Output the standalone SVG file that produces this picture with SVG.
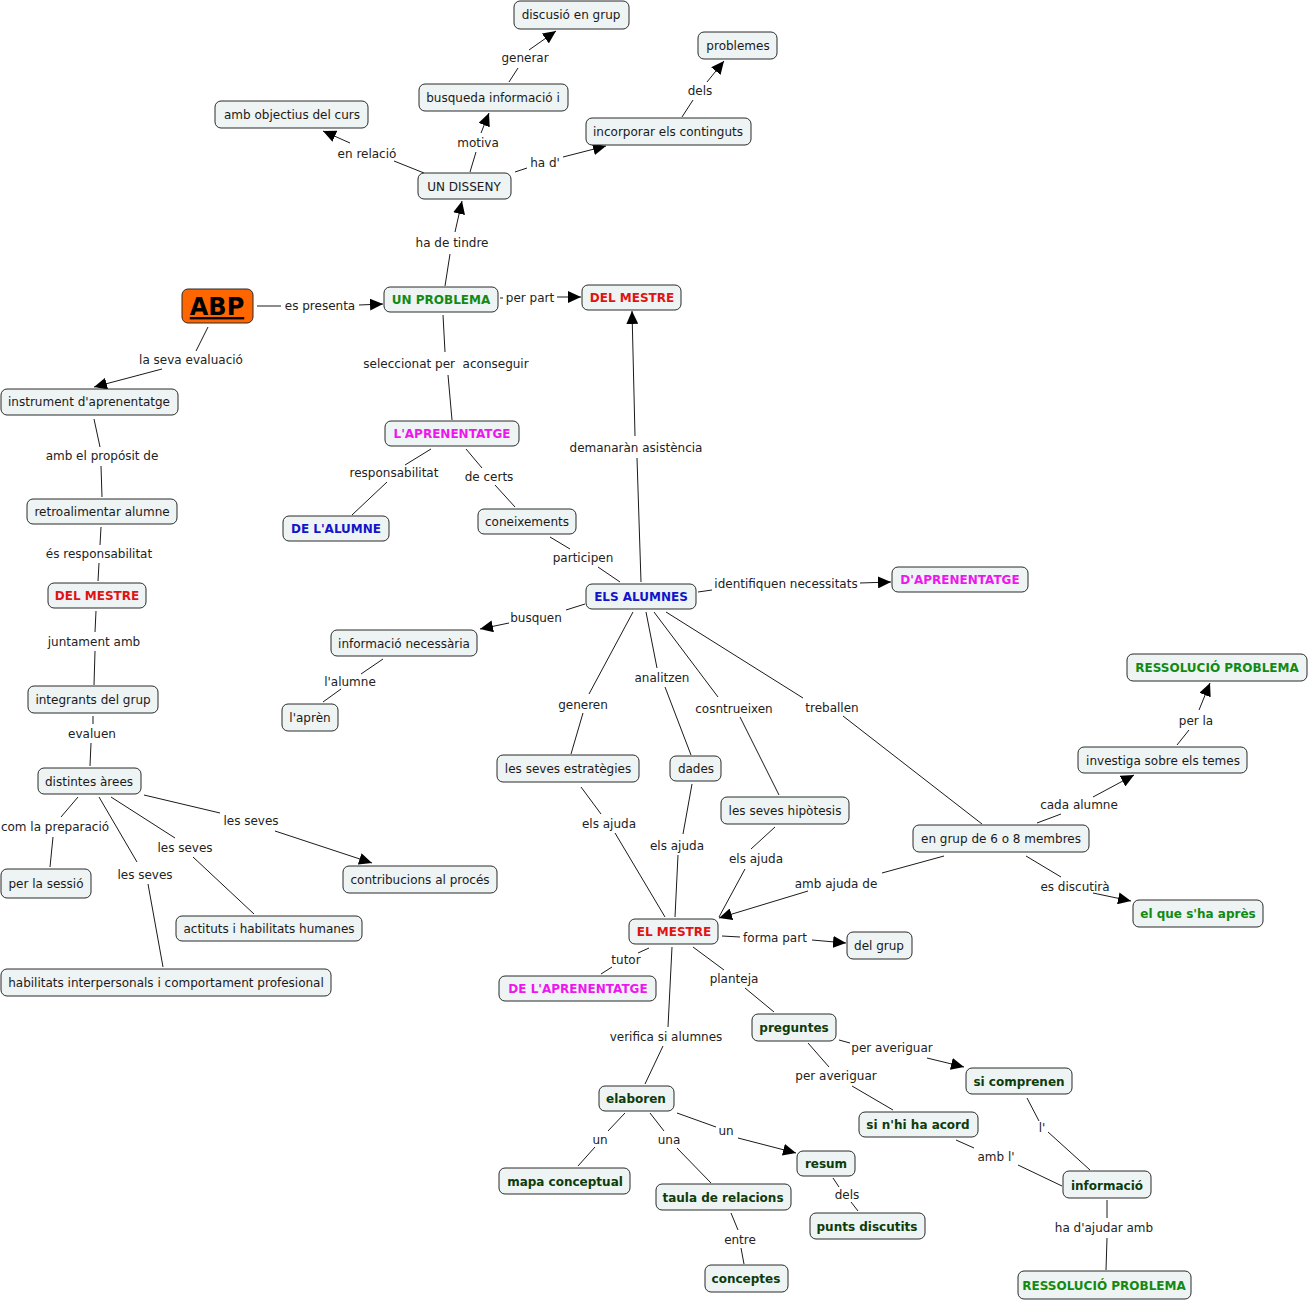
<svg xmlns="http://www.w3.org/2000/svg" width="1311" height="1301" viewBox="0 0 1311 1301">
<style>
.n{fill:#eef3f3;stroke:#2a2a2a;stroke-width:1}
.t{font-family:"DejaVu Sans",Verdana,sans-serif;font-size:12px;fill:#1a1a1a;text-anchor:middle}
.b{font-weight:bold}
.l{font-family:"DejaVu Sans",Verdana,sans-serif;font-size:12px;fill:#222;text-anchor:middle}
.c line{stroke:#1a1a1a;stroke-width:1}
.a{marker-end:url(#ar)}
.g{fill:#128a12}.r{fill:#e01414}.m{fill:#ee16ee}.bl{fill:#1414c8}.dg{fill:#0c3c0c}
</style>
<defs>
<marker id="ar" markerUnits="userSpaceOnUse" markerWidth="14" markerHeight="12" refX="13" refY="6" orient="auto"><path d="M0,0 L13,6 L0,12 z" fill="#000"/></marker>
</defs>
<rect width="1311" height="1301" fill="#fff"/>
<g class="c">
<line x1="470" y1="172" x2="476" y2="152"/><line x1="481" y1="133" x2="489" y2="113" class="a"/>
<line x1="509" y1="82" x2="518" y2="68"/><line x1="529" y1="50" x2="556" y2="31" class="a"/>
<line x1="424" y1="173" x2="394" y2="161"/><line x1="350" y1="143" x2="323" y2="131" class="a"/>
<line x1="515" y1="172" x2="527" y2="168"/><line x1="563" y1="157" x2="606" y2="146" class="a"/>
<line x1="682" y1="117" x2="693" y2="100"/><line x1="707" y1="82" x2="724" y2="61" class="a"/>
<line x1="445" y1="286" x2="450" y2="254"/><line x1="455" y1="232" x2="462" y2="201" class="a"/>
<line x1="257" y1="306" x2="281" y2="306"/><line x1="359" y1="305" x2="383" y2="304" class="a"/>
<line x1="500" y1="298" x2="503" y2="298"/><line x1="557" y1="297" x2="581" y2="297" class="a"/>
<line x1="208" y1="327" x2="196" y2="351"/><line x1="162" y1="369" x2="94" y2="387" class="a"/>
<line x1="443" y1="315" x2="445" y2="352"/><line x1="448" y1="375" x2="452" y2="420"/>
<line x1="641" y1="582" x2="637" y2="458"/><line x1="635" y1="436" x2="632" y2="311" class="a"/>
<line x1="94" y1="419" x2="100" y2="447"/><line x1="101" y1="466" x2="102" y2="497"/>
<line x1="431" y1="449" x2="405" y2="465"/><line x1="387" y1="482" x2="352" y2="515"/>
<line x1="466" y1="449" x2="482" y2="468"/><line x1="495" y1="485" x2="515" y2="507"/>
<line x1="101" y1="527" x2="100" y2="545"/><line x1="99" y1="563" x2="98" y2="581"/>
<line x1="550" y1="537" x2="570" y2="549"/><line x1="598" y1="567" x2="620" y2="582"/>
<line x1="698" y1="592" x2="712" y2="590"/><line x1="860" y1="583" x2="891" y2="582" class="a"/>
<line x1="585" y1="604" x2="566" y2="610"/><line x1="509" y1="623" x2="480" y2="629" class="a"/>
<line x1="96" y1="611" x2="95" y2="632"/><line x1="95" y1="651" x2="94" y2="685"/>
<line x1="383" y1="659" x2="361" y2="674"/><line x1="341" y1="689" x2="323" y2="702"/>
<line x1="646" y1="612" x2="657" y2="668"/><line x1="665" y1="687" x2="691" y2="755"/>
<line x1="633" y1="612" x2="589" y2="694"/><line x1="583" y1="713" x2="571" y2="754"/>
<line x1="654" y1="612" x2="718" y2="697"/><line x1="740" y1="717" x2="779" y2="795"/>
<line x1="666" y1="612" x2="803" y2="698"/><line x1="843" y1="716" x2="982" y2="824"/>
<line x1="93" y1="716" x2="93" y2="724"/><line x1="91" y1="743" x2="90" y2="766"/>
<line x1="1177" y1="745" x2="1189" y2="730"/><line x1="1199" y1="710" x2="1210" y2="683" class="a"/>
<line x1="1037" y1="823" x2="1061" y2="814"/><line x1="1093" y1="797" x2="1134" y2="775" class="a"/>
<line x1="144" y1="795" x2="220" y2="813"/><line x1="275" y1="831" x2="372" y2="863" class="a"/>
<line x1="78" y1="797" x2="61" y2="817"/><line x1="53" y1="837" x2="50" y2="867"/>
<line x1="111" y1="797" x2="175" y2="838"/><line x1="193" y1="857" x2="254" y2="914"/>
<line x1="99" y1="797" x2="137" y2="862"/><line x1="148" y1="884" x2="163" y2="967"/>
<line x1="581" y1="787" x2="601" y2="814"/><line x1="615" y1="833" x2="665" y2="917"/>
<line x1="692" y1="784" x2="683" y2="834"/><line x1="678" y1="855" x2="675" y2="917"/>
<line x1="775" y1="827" x2="751" y2="849"/><line x1="745" y1="869" x2="719" y2="917"/>
<line x1="944" y1="856" x2="882" y2="873"/><line x1="808" y1="891" x2="719" y2="918" class="a"/>
<line x1="1026" y1="856" x2="1061" y2="877"/><line x1="1093" y1="893" x2="1131" y2="901" class="a"/>
<line x1="722" y1="936" x2="740" y2="937"/><line x1="812" y1="940" x2="846" y2="943" class="a"/>
<line x1="649" y1="948" x2="638" y2="953"/><line x1="612" y1="967" x2="601" y2="974"/>
<line x1="693" y1="947" x2="724" y2="970"/><line x1="745" y1="988" x2="774" y2="1012"/>
<line x1="672" y1="947" x2="668" y2="1027"/><line x1="663" y1="1046" x2="645" y2="1084"/>
<line x1="839" y1="1040" x2="850" y2="1043"/><line x1="927" y1="1058" x2="964" y2="1067" class="a"/>
<line x1="808" y1="1043" x2="829" y2="1067"/><line x1="852" y1="1086" x2="893" y2="1110"/>
<line x1="625" y1="1113" x2="608" y2="1131"/><line x1="595" y1="1147" x2="578" y2="1166"/>
<line x1="650" y1="1113" x2="664" y2="1131"/><line x1="677" y1="1148" x2="711" y2="1183"/>
<line x1="677" y1="1113" x2="716" y2="1127"/><line x1="738" y1="1138" x2="796" y2="1153" class="a"/>
<line x1="1027" y1="1098" x2="1039" y2="1121"/><line x1="1048" y1="1132" x2="1090" y2="1170"/>
<line x1="956" y1="1140" x2="974" y2="1148"/><line x1="1018" y1="1165" x2="1062" y2="1186"/>
<line x1="833" y1="1178" x2="839" y2="1187"/><line x1="851" y1="1202" x2="858" y2="1211"/>
<line x1="1107" y1="1200" x2="1107" y2="1218"/><line x1="1107" y1="1238" x2="1106" y2="1270"/>
<line x1="731" y1="1213" x2="738" y2="1230"/><line x1="741" y1="1248" x2="744" y2="1264"/>
</g>
<g id="labels">
<text class="l" x="525" y="62">generar</text>
<text class="l" x="700" y="95">dels</text>
<text class="l" x="478" y="147">motiva</text>
<text class="l" x="367" y="158">en relació</text>
<text class="l" x="545" y="167">ha d'</text>
<text class="l" x="452" y="247">ha de tindre</text>
<text class="l" x="320" y="310">es presenta</text>
<text class="l" x="530" y="302">per part</text>
<text class="l" x="191" y="364">la seva evaluació</text>
<text class="l" x="446" y="368" xml:space="preserve">seleccionat per  aconseguir</text>
<text class="l" x="636" y="452">demanaràn asistència</text>
<text class="l" x="102" y="460">amb el propósit de</text>
<text class="l" x="394" y="477">responsabilitat</text>
<text class="l" x="489" y="481">de certs</text>
<text class="l" x="99" y="558">és responsabilitat</text>
<text class="l" x="583" y="562">participen</text>
<text class="l" x="786" y="588">identifiquen necessitats</text>
<text class="l" x="536" y="622">busquen</text>
<text class="l" x="94" y="646">juntament amb</text>
<text class="l" x="350" y="686">l'alumne</text>
<text class="l" x="662" y="682">analitzen</text>
<text class="l" x="583" y="709">generen</text>
<text class="l" x="734" y="713">cosntrueixen</text>
<text class="l" x="832" y="712">treballen</text>
<text class="l" x="1196" y="725">per la</text>
<text class="l" x="92" y="738">evaluen</text>
<text class="l" x="1079" y="809">cada alumne</text>
<text class="l" x="251" y="825">les seves</text>
<text class="l" x="55" y="831">com la preparació</text>
<text class="l" x="609" y="828">els ajuda</text>
<text class="l" x="185" y="852">les seves</text>
<text class="l" x="677" y="850">els ajuda</text>
<text class="l" x="756" y="863">els ajuda</text>
<text class="l" x="145" y="879">les seves</text>
<text class="l" x="836" y="888">amb ajuda de</text>
<text class="l" x="1075" y="891">es discutirà</text>
<text class="l" x="775" y="942">forma part</text>
<text class="l" x="626" y="964">tutor</text>
<text class="l" x="734" y="983">planteja</text>
<text class="l" x="666" y="1041">verifica si alumnes</text>
<text class="l" x="892" y="1052">per averiguar</text>
<text class="l" x="836" y="1080">per averiguar</text>
<text class="l" x="600" y="1144">un</text>
<text class="l" x="669" y="1144">una</text>
<text class="l" x="726" y="1135">un</text>
<text class="l" x="1042" y="1132">l'</text>
<text class="l" x="996" y="1161">amb l'</text>
<text class="l" x="847" y="1199">dels</text>
<text class="l" x="1104" y="1232">ha d'ajudar amb</text>
<text class="l" x="740" y="1244">entre</text>
</g>
<g id="n1"><rect class="n" x="514" y="1" width="115" height="28" rx="6"/><text class="t" x="571" y="19">discusió en grup</text></g>
<g id="n2"><rect class="n" x="698" y="32" width="79" height="27" rx="6"/><text class="t" x="738" y="50">problemes</text></g>
<g id="n3"><rect class="n" x="419" y="84" width="149" height="27" rx="6"/><text class="t" x="493" y="102">busqueda informació i</text></g>
<g id="n4"><rect class="n" x="215" y="101" width="153" height="27" rx="6"/><text class="t" x="292" y="119">amb objectius del curs</text></g>
<g id="n5"><rect class="n" x="586" y="118" width="165" height="27" rx="6"/><text class="t" x="668" y="136">incorporar els continguts</text></g>
<g id="n6"><rect class="n" x="418" y="173" width="93" height="26" rx="6"/><text class="t" x="464" y="191">UN DISSENY</text></g>
<g id="n7"><rect x="182" y="289" width="71" height="34" rx="6" fill="#ff6600" stroke="#2a2a2a"/><text class="t b" x="217" y="315" style="font-size:24px;text-decoration:underline;fill:#000">ABP</text></g>
<g id="n8"><rect class="n" x="384" y="287" width="114" height="25" rx="6"/><text class="t b g" x="441" y="304">UN PROBLEMA</text></g>
<g id="n9"><rect class="n" x="582" y="285" width="99" height="25" rx="6"/><text class="t b r" x="632" y="302">DEL MESTRE</text></g>
<g id="n10"><rect class="n" x="1" y="389" width="177" height="26" rx="6"/><text class="t" x="89" y="406">instrument d'aprenentatge</text></g>
<g id="n11"><rect class="n" x="385" y="421" width="134" height="25" rx="6"/><text class="t b m" x="452" y="438">L'APRENENTATGE</text></g>
<g id="n12"><rect class="n" x="283" y="516" width="106" height="25" rx="6"/><text class="t b bl" x="336" y="533">DE L'ALUMNE</text></g>
<g id="n13"><rect class="n" x="27" y="499" width="150" height="25" rx="6"/><text class="t" x="102" y="516">retroalimentar alumne</text></g>
<g id="n14"><rect class="n" x="478" y="509" width="98" height="25" rx="6"/><text class="t" x="527" y="526">coneixements</text></g>
<g id="n15"><rect class="n" x="586" y="584" width="110" height="25" rx="6"/><text class="t b bl" x="641" y="601">ELS ALUMNES</text></g>
<g id="n16"><rect class="n" x="892" y="567" width="136" height="25" rx="6"/><text class="t b m" x="960" y="584">D'APRENENTATGE</text></g>
<g id="n17"><rect class="n" x="48" y="583" width="98" height="25" rx="6"/><text class="t b r" x="97" y="600">DEL MESTRE</text></g>
<g id="n18"><rect class="n" x="331" y="630" width="146" height="26" rx="6"/><text class="t" x="404" y="648">informació necessària</text></g>
<g id="n19"><rect class="n" x="282" y="704" width="56" height="27" rx="6"/><text class="t" x="310" y="722">l'aprèn</text></g>
<g id="n20"><rect class="n" x="1127" y="654" width="180" height="27" rx="6"/><text class="t b g" x="1217" y="672">RESSOLUCIÓ PROBLEMA</text></g>
<g id="n21"><rect class="n" x="28" y="686" width="130" height="27" rx="6"/><text class="t" x="93" y="704">integrants del grup</text></g>
<g id="n22"><rect class="n" x="1078" y="747" width="169" height="26" rx="6"/><text class="t" x="1163" y="765">investiga sobre els temes</text></g>
<g id="n23"><rect class="n" x="38" y="768" width="103" height="26" rx="6"/><text class="t" x="89" y="786">distintes àrees</text></g>
<g id="n24"><rect class="n" x="497" y="755" width="142" height="27" rx="6"/><text class="t" x="568" y="773">les seves estratègies</text></g>
<g id="n25"><rect class="n" x="670" y="756" width="51" height="25" rx="6"/><text class="t" x="696" y="773">dades</text></g>
<g id="n26"><rect class="n" x="721" y="797" width="128" height="27" rx="6"/><text class="t" x="785" y="815">les seves hipòtesis</text></g>
<g id="n27"><rect class="n" x="913" y="825" width="176" height="27" rx="6"/><text class="t" x="1001" y="843">en grup de 6 o 8 membres</text></g>
<g id="n28"><rect class="n" x="1" y="869" width="90" height="29" rx="6"/><text class="t" x="46" y="888">per la sessió</text></g>
<g id="n29"><rect class="n" x="343" y="866" width="154" height="27" rx="6"/><text class="t" x="420" y="884">contribucions al procés</text></g>
<g id="n30"><rect class="n" x="1133" y="900" width="130" height="27" rx="6"/><text class="t b g" x="1198" y="918">el que s'ha après</text></g>
<g id="n31"><rect class="n" x="176" y="916" width="186" height="25" rx="6"/><text class="t" x="269" y="933">actituts i habilitats humanes</text></g>
<g id="n32"><rect class="n" x="629" y="919" width="89" height="25" rx="6"/><text class="t b r" x="674" y="936">EL MESTRE</text></g>
<g id="n33"><rect class="n" x="847" y="932" width="65" height="27" rx="6"/><text class="t" x="879" y="950">del grup</text></g>
<g id="n34"><rect class="n" x="1" y="969" width="330" height="27" rx="6"/><text class="t" x="166" y="987">habilitats interpersonals i comportament profesional</text></g>
<g id="n35"><rect class="n" x="499" y="976" width="157" height="25" rx="6"/><text class="t b m" x="578" y="993">DE L'APRENENTATGE</text></g>
<g id="n36"><rect class="n" x="752" y="1014" width="84" height="27" rx="6"/><text class="t b dg" x="794" y="1032">preguntes</text></g>
<g id="n37"><rect class="n" x="966" y="1068" width="106" height="26" rx="6"/><text class="t b dg" x="1019" y="1086">si comprenen</text></g>
<g id="n38"><rect class="n" x="599" y="1086" width="75" height="25" rx="6"/><text class="t b dg" x="636" y="1103">elaboren</text></g>
<g id="n39"><rect class="n" x="859" y="1112" width="119" height="25" rx="6"/><text class="t b dg" x="918" y="1129">si n'hi ha acord</text></g>
<g id="n40"><rect class="n" x="797" y="1151" width="58" height="25" rx="6"/><text class="t b dg" x="826" y="1168">resum</text></g>
<g id="n41"><rect class="n" x="499" y="1168" width="131" height="26" rx="6"/><text class="t b dg" x="565" y="1186">mapa conceptual</text></g>
<g id="n42"><rect class="n" x="1063" y="1171" width="88" height="27" rx="6"/><text class="t b dg" x="1107" y="1190">informació</text></g>
<g id="n43"><rect class="n" x="656" y="1184" width="135" height="26" rx="6"/><text class="t b dg" x="723" y="1202">taula de relacions</text></g>
<g id="n44"><rect class="n" x="810" y="1213" width="115" height="26" rx="6"/><text class="t b dg" x="867" y="1231">punts discutits</text></g>
<g id="n45"><rect class="n" x="705" y="1265" width="83" height="27" rx="6"/><text class="t b dg" x="746" y="1283">conceptes</text></g>
<g id="n46"><rect class="n" x="1018" y="1271" width="173" height="28" rx="6"/><text class="t b g" x="1104" y="1290">RESSOLUCIÓ PROBLEMA</text></g>
</svg>
